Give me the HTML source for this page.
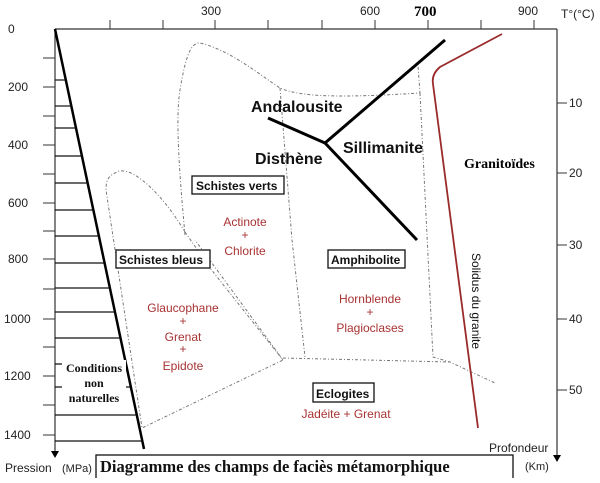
<!DOCTYPE html>
<html><head><meta charset="utf-8"><style>
body{margin:0;background:#fff;width:600px;height:478px;overflow:hidden}
svg text{font-family:"Liberation Sans",sans-serif}
svg text.s{font-family:"Liberation Serif",serif;font-weight:bold}
</style></head><body>
<svg width="600" height="478" viewBox="0 0 600 478" xmlns="http://www.w3.org/2000/svg">
<g stroke="#333" stroke-width="1.2" fill="none">
<line x1="55" y1="29" x2="557" y2="29"/>
<line x1="55" y1="29" x2="55" y2="453"/>
<line x1="557" y1="29" x2="557" y2="456"/>
</g>
<polygon points="51,451 59,451 55,458" fill="#000"/>
<polygon points="553,455 561,455 557,462" fill="#000"/>
<g stroke="#333" stroke-width="1">
<line x1="110" y1="20" x2="110" y2="29"/><line x1="163" y1="20" x2="163" y2="29"/><line x1="215" y1="20" x2="215" y2="29"/><line x1="268" y1="20" x2="268" y2="29"/><line x1="322" y1="20" x2="322" y2="29"/><line x1="375" y1="20" x2="375" y2="29"/><line x1="428" y1="20" x2="428" y2="29"/><line x1="481" y1="20" x2="481" y2="29"/><line x1="534" y1="20" x2="534" y2="29"/>
<line x1="43" y1="58" x2="55" y2="58"/><line x1="43" y1="87" x2="55" y2="87"/><line x1="43" y1="116" x2="55" y2="116"/><line x1="43" y1="145" x2="55" y2="145"/><line x1="43" y1="174" x2="55" y2="174"/><line x1="43" y1="203" x2="55" y2="203"/><line x1="43" y1="231" x2="55" y2="231"/><line x1="43" y1="259" x2="55" y2="259"/><line x1="43" y1="289" x2="55" y2="289"/><line x1="43" y1="319" x2="55" y2="319"/><line x1="43" y1="347" x2="55" y2="347"/><line x1="43" y1="376" x2="55" y2="376"/><line x1="43" y1="405" x2="55" y2="405"/><line x1="43" y1="435" x2="55" y2="435"/>
<line x1="557" y1="103" x2="567" y2="103"/><line x1="557" y1="173" x2="567" y2="173"/><line x1="557" y1="245" x2="567" y2="245"/><line x1="557" y1="319" x2="567" y2="319"/><line x1="557" y1="390" x2="567" y2="390"/>
</g>
<g font-size="12" fill="#222">
<text x="8" y="33">0</text><text x="8" y="91">200</text><text x="8" y="149">400</text><text x="8" y="207">600</text><text x="8" y="263">800</text><text x="4" y="323">1000</text><text x="4" y="380">1200</text><text x="4" y="439">1400</text>
<text x="201" y="15">300</text><text x="360" y="15">600</text><text x="518" y="15">900</text>
<text x="569" y="107">10</text><text x="569" y="177">20</text><text x="569" y="249">30</text><text x="569" y="323">40</text><text x="569" y="394">50</text>
<text x="561" y="18">T°(°C)</text>
<text x="5" y="472">Pression</text><text x="62" y="472" font-size="11">(MPa)</text>
<text x="489" y="452">Profondeur</text><text x="525" y="470" font-size="11">(Km)</text>
</g>
<text x="414" y="16" class="s" font-size="15">700</text>
<line x1="55" y1="29" x2="144" y2="449" stroke="#000" stroke-width="2.5"/>
<g stroke="#111" stroke-width="1.2">
<line x1="55" y1="80" x2="66" y2="80"/><line x1="55" y1="106" x2="71" y2="106"/><line x1="55" y1="128" x2="76" y2="128"/><line x1="55" y1="156" x2="82" y2="156"/><line x1="55" y1="183" x2="88" y2="183"/><line x1="55" y1="210" x2="93" y2="210"/><line x1="55" y1="236" x2="98" y2="236"/><line x1="55" y1="263" x2="104" y2="263"/><line x1="55" y1="288" x2="109" y2="288"/><line x1="55" y1="312" x2="114" y2="312"/><line x1="55" y1="338" x2="120" y2="338"/><line x1="55" y1="364" x2="125" y2="364"/><line x1="55" y1="387" x2="130" y2="387"/><line x1="55" y1="415" x2="136" y2="415"/><line x1="55" y1="441" x2="142" y2="441"/>
</g>
<rect x="62" y="360" width="64" height="48" fill="#fff"/>
<g font-size="12" fill="#111" text-anchor="middle">
<text class="s" x="94" y="372">Conditions</text><text class="s" x="94" y="387">non</text><text class="s" x="94" y="402">naturelles</text>
</g>
<g stroke="#777" stroke-width="1" fill="none" stroke-dasharray="3,2,1,2">
<path d="M185,235 C180,180 175,120 180,90 C185,60 190,42 200,43 C230,50 260,75 280,88 C300,97 340,98 420,93 L418,66"/>
<path d="M280,88 L292,240 L305,357"/>
<path d="M420,93 L433,357 L450,362 L495,383"/>
<path d="M283,358 L450,362"/>
<path d="M185,232 C160,190 130,165 117,172 C108,176 106,180 106,190 L142,428 L283,360 L195,240"/>
<path d="M185,232 L210,268 L283,360"/>
</g>
<g stroke="#000" stroke-width="3" fill="none">
<line x1="268" y1="118" x2="325" y2="143"/>
<line x1="325" y1="143" x2="445" y2="40"/>
<line x1="325" y1="143" x2="417" y2="240"/>
</g>
<path d="M502,34 L440,67 C434,72 432,78 433,84 L478,428" stroke="#9b2b2b" stroke-width="1.8" fill="none"/>
<g font-size="16" font-weight="bold" fill="#111">
<text x="251" y="112">Andalousite</text><text x="255" y="164">Disthène</text><text x="343" y="153">Sillimanite</text>
</g>
<text x="464" y="168" class="s" font-size="14">Granitoïdes</text>
<g fill="#fff" stroke="#111" stroke-width="1.3">
<rect x="192" y="176" width="92" height="18"/><rect x="116" y="250" width="94" height="18"/><rect x="328" y="250" width="77" height="18"/><rect x="313" y="383" width="61" height="19"/>
</g>
<g font-size="12" font-weight="bold" fill="#111">
<text x="196" y="190">Schistes verts</text><text x="119" y="264">Schistes bleus</text><text x="331" y="264">Amphibolite</text><text x="316" y="398">Eclogites</text>
</g>
<g font-size="12" fill="#a83232" text-anchor="middle">
<text x="245" y="226">Actinote</text><text x="245" y="239">+</text><text x="245" y="255">Chlorite</text>
<text x="183" y="312">Glaucophane</text><text x="183" y="325">+</text><text x="183" y="341">Grenat</text><text x="183" y="353">+</text><text x="183" y="370">Epidote</text>
<text x="370" y="303">Hornblende</text><text x="370" y="316">+</text><text x="370" y="332">Plagioclases</text>
<text x="346" y="418">Jadéite + Grenat</text>
</g>
<text transform="translate(472,253) rotate(90)" font-size="12" fill="#111">Solidus du granite</text>
<rect x="96" y="455" width="417" height="24" fill="#fff" stroke="#111" stroke-width="1.3"/>
<text x="100" y="472" class="s" font-size="16.5" fill="#111">Diagramme des champs de faciès métamorphique</text>
</svg>
</body></html>
